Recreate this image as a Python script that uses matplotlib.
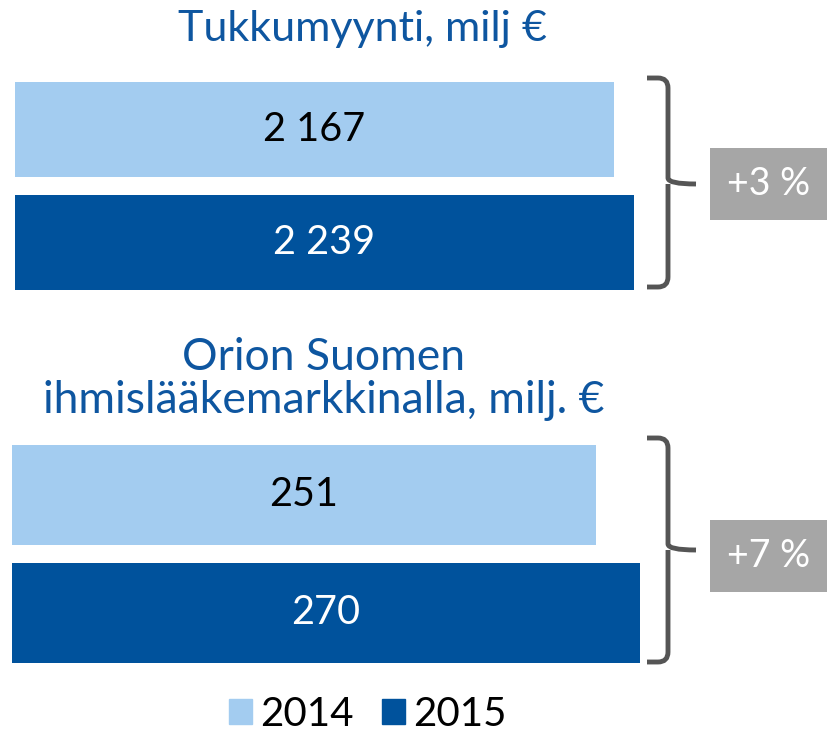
import matplotlib.pyplot as plt
import matplotlib.patches as mpatches
from matplotlib.path import Path

# data
otsikot = ["Tukkumyynti, milj €", "Orion Suomen\nihmislääkemarkkinalla, milj. €"]
vuodet = ["2014", "2015"]
arvot_tukku = [2167, 2239]
arvot_orion = [251, 270]
arvo_tekstit_tukku = ["2 167", "2 239"]
arvo_tekstit_orion = ["251", "270"]
muutokset = ["+3 %", "+7 %"]

vaalea = "#A3CCF0"
tumma = "#00529C"
otsikko_vari = "#0E56A0"
harmaa = "#A6A6A6"
fontti = ["Lato", "DejaVu Sans"]

W, H = 827, 732
fig = plt.figure(figsize=(W / 100, H / 100), dpi=100)
plt.rcParams['font.family'] = fontti


def px_ax(x0, y0, x1, y1):
    # pikselikoordinaatit (ylhäältä) -> figure-osuudet
    return fig.add_axes([x0 / W, 1 - y1 / H, (x1 - x0) / W, (y1 - y0) / H])


def piirra_palkit(ax, arvot, tekstit, korkeus):
    ax.barh([1, 0], arvot, height=korkeus, color=[vaalea, tumma])
    ax.set_xlim(0, max(arvot))
    ax.set_ylim(-korkeus / 2, 1 + korkeus / 2)
    for y, v, t, c in zip([1, 0], arvot, tekstit, ["black", "white"]):
        ax.text(v / 2, y, t, ha="center", va="center", fontsize=28.5, color=c)
    ax.axis("off")


# ylempi paneeli: palkit 95 px, väli 18 px
ax1 = px_ax(15, 82, 634, 290)
piirra_palkit(ax1, arvot_tukku, arvo_tekstit_tukku, 95 / 113)

# alempi paneeli: palkit 100 px, väli 18 px
ax2 = px_ax(12, 445, 640, 663)
piirra_palkit(ax2, arvot_orion, arvo_tekstit_orion, 100 / 118)

# otsikot
fig.text(363 / W, 1 - 29 / H, otsikot[0], ha="center", va="center",
         fontsize=31, color=otsikko_vari)
fig.text(324 / W, 1 - 379 / H, otsikot[1], ha="center", va="center",
         fontsize=32, color=otsikko_vari, linespacing=1.05)


def sulje(y0, y1, ym):
    # kaareva hakasulje pikseleinä
    xa, xb, xt = 647, 668, 696
    r = 10
    verts = [(xa, y0), (xb - r, y0), (xb, y0), (xb, y0 + r),
             (xb, ym - 6), (xb, ym), (xt, ym),
             (xb, ym), (xb, ym + 6),
             (xb, y1 - r), (xb, y1), (xb - r, y1), (xa, y1)]
    codes = [Path.MOVETO, Path.LINETO, Path.CURVE3, Path.CURVE3,
             Path.LINETO, Path.CURVE3, Path.CURVE3,
             Path.MOVETO, Path.LINETO,
             Path.LINETO, Path.CURVE3, Path.CURVE3, Path.LINETO]
    v = [(x / W, 1 - y / H) for x, y in verts]
    fig.patches.append(mpatches.PathPatch(Path(v, codes), transform=fig.transFigure,
                                          fill=False, lw=3.5, color="#555555",
                                          capstyle="butt", joinstyle="round"))


def laatikko(y0, y1, teksti):
    fig.patches.append(mpatches.Rectangle((710 / W, 1 - y1 / H), 117 / W, (y1 - y0) / H,
                                          transform=fig.transFigure, color=harmaa, lw=0))
    fig.text(769 / W, 1 - (y0 + y1) / 2 / H, teksti, ha="center", va="center",
             fontsize=27, color="white")


sulje(78, 287, 184)
laatikko(148, 220, muutokset[0])
sulje(438, 662, 550)
laatikko(520, 592, muutokset[1])

# selite
fig.legend(handles=[mpatches.Patch(color=vaalea, label=vuodet[0]),
                    mpatches.Patch(color=tumma, label=vuodet[1])],
           loc="center", bbox_to_anchor=(368 / W, 1 - 714 / H), ncol=2, frameon=False,
           fontsize=29, handlelength=0.58, handleheight=0.58, handletextpad=0.2,
           columnspacing=0.7, borderpad=0)

fig.savefig("out.png", dpi=100)
